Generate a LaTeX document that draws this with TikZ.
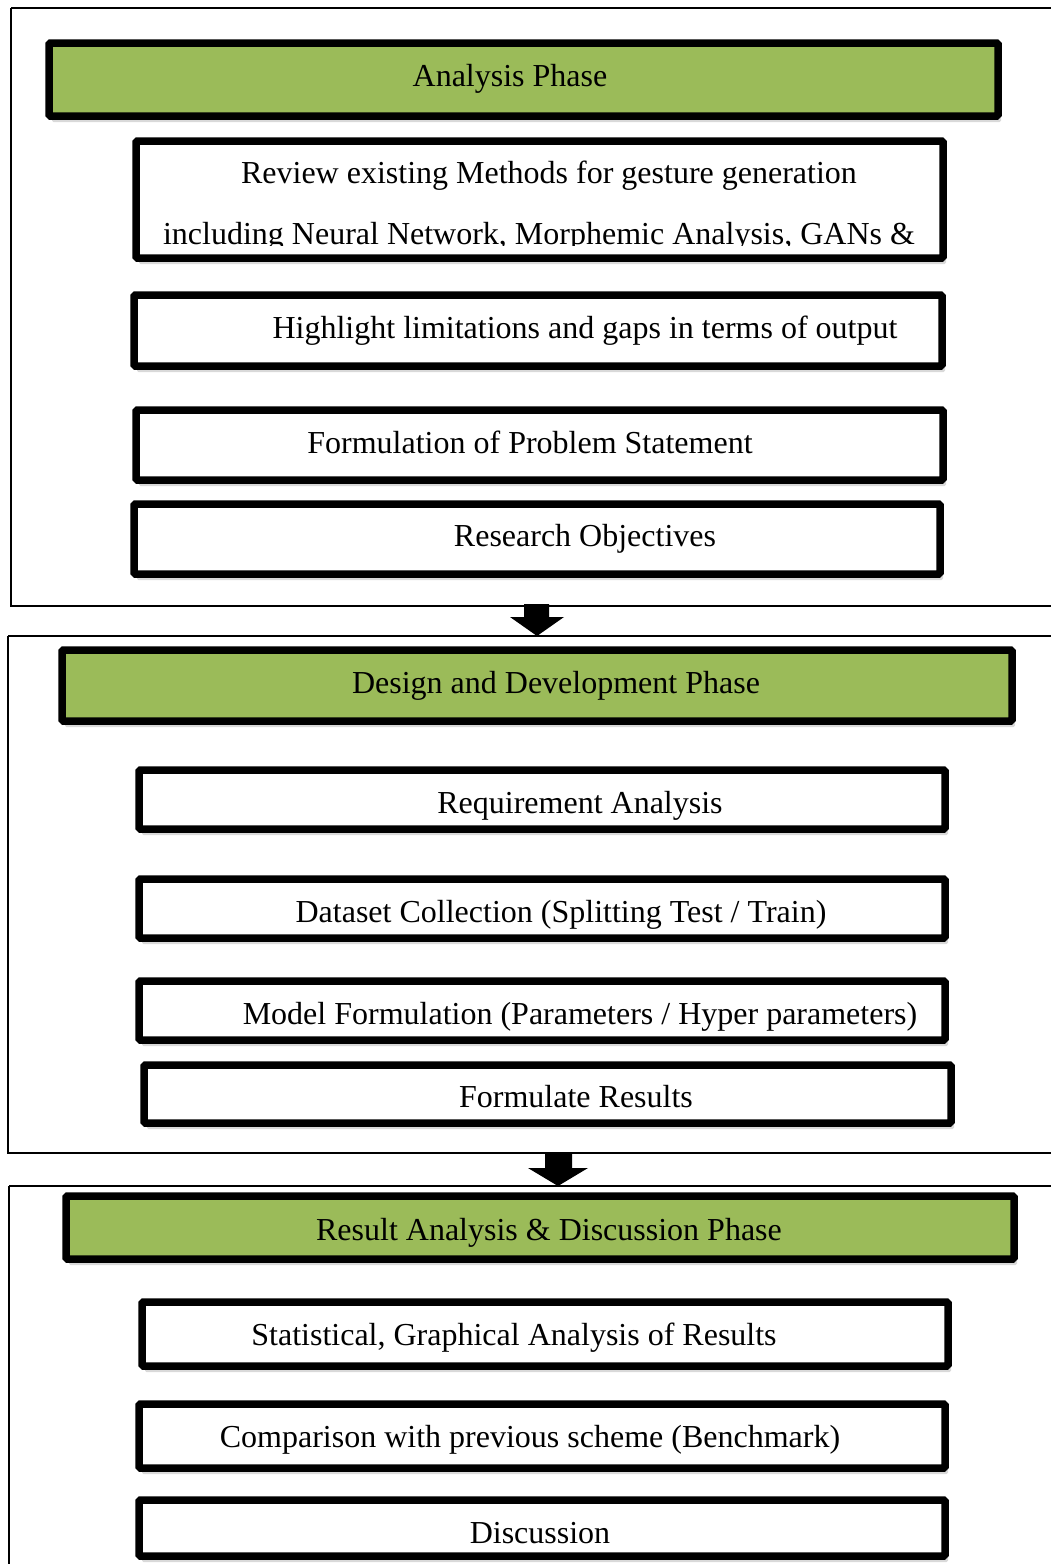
\documentclass[tikz,border=0pt]{standalone}
\usepackage{fontspec}
\setmainfont{Liberation Serif}
\usetikzlibrary{shadows,calc}
\begin{document}
\begin{tikzpicture}[x=1pt,y=-1pt,
  frame/.style={draw=black, line width=1.8pt},
  stepbox/.style={draw=black, fill=white, line width=7.5pt, rounded corners=1.5pt,
    inner sep=0pt, outer sep=0pt,
    drop shadow={opacity=0.3, shadow xshift=3pt, shadow yshift=-6pt}},
  phasebox/.style={stepbox, fill=phasegreen},
  lbl/.style={anchor=base, inner sep=0pt, font=\fontsize{32}{38}\selectfont},
  blockarrow/.style={fill=black, draw=none}]
\definecolor{phasegreen}{HTML}{9BBB59}
\useasboundingbox (0,0) rectangle (1051,1564);
\clip (0,0) rectangle (1051,1564);

% phase frames
\draw[frame] (11,8) -- (1070,8) (11,8) -- (11,606) -- (1070,606);
\draw[frame] (8,636) -- (1070,636) (8,636) -- (8,1153) -- (1070,1153);
\draw[frame] (9,1186) -- (1070,1186) (9,1186) -- (9,1580);
\coordinate (f1s) at (537,606);
\coordinate (f2n) at (537,636);
\coordinate (f2s) at (558,1153);
\coordinate (f3n) at (558,1186);

% block arrows between phases
\fill[blockarrow] ($(f1s)+(-13,-2)$) -- ($(f1s)+(-13,11)$) -- ($(f1s)+(-27,11)$)
  -- (f2n) -- ($(f1s)+(27,11)$) -- ($(f1s)+(12,11)$) -- ($(f1s)+(12,-2)$) -- cycle;
\fill[blockarrow] ($(f2s)+(-13,-1)$) -- ($(f2s)+(-13,15)$) -- ($(f2s)+(-30,15)$)
  -- (f3n) -- ($(f2s)+(30,15)$) -- ($(f2s)+(14,15)$) -- ($(f2s)+(14,-1)$) -- cycle;

% Analysis phase
\node[phasebox, minimum width=949pt, minimum height=73pt] (a0) at (523.5,79.5) {};
\node[lbl] (ta0) at (510,86) {Analysis Phase};
\node[stepbox, minimum width=807pt, minimum height=117pt] (a1) at (539.5,199.5) {};
\begin{scope}
  \clip (140,145) rectangle (940,245);
  \node[lbl] (ta1a) at (549,183) {Review existing Methods for gesture generation};
  \node[lbl] (ta1b) at (539,244) {including Neural Network, Morphemic Analysis, GANs \&};
\end{scope}
\node[stepbox, minimum width=808pt, minimum height=71pt] (a2) at (538,330.5) {};
\node[lbl] (ta2) at (585,338) {Highlight limitations and gaps in terms of output};
\node[stepbox, minimum width=807pt, minimum height=70pt] (a3) at (539.5,445) {};
\node[lbl] (ta3) at (530,453) {Formulation of Problem Statement};
\node[stepbox, minimum width=806pt, minimum height=70pt] (a4) at (537,539) {};
\node[lbl] (ta4) at (585,546) {Research Objectives};

% Design and development phase
\node[phasebox, minimum width=950pt, minimum height=71pt] (d0) at (537,685.5) {};
\node[lbl] (td0) at (556,693) {Design and Development Phase};
\node[stepbox, minimum width=806pt, minimum height=59pt] (d1) at (542,799.5) {};
\node[lbl] (td1) at (580,813) {Requirement Analysis};
\node[stepbox, minimum width=806pt, minimum height=59pt] (d2) at (542,908.5) {};
\node[lbl] (td2) at (561,922) {Dataset Collection (Splitting Test / Train)};
\node[stepbox, minimum width=806pt, minimum height=59pt] (d3) at (542,1010.5) {};
\node[lbl] (td3) at (580,1024) {Model Formulation (Parameters / Hyper parameters)};
\node[stepbox, minimum width=807pt, minimum height=58pt] (d4) at (547.5,1094) {};
\node[lbl] (td4) at (576,1107) {Formulate Results};

% Result analysis and discussion phase
\node[phasebox, minimum width=948pt, minimum height=63pt] (r0) at (540,1227.5) {};
\node[lbl] (tr0) at (549,1240) {Result Analysis \& Discussion Phase};
\node[stepbox, minimum width=806pt, minimum height=64pt] (r1) at (545,1334) {};
\node[lbl] (tr1) at (514,1345) {Statistical, Graphical Analysis of Results};
\node[stepbox, minimum width=806pt, minimum height=64pt] (r2) at (542,1436) {};
\node[lbl] (tr2) at (530,1447) {Comparison with previous scheme (Benchmark)};
\node[stepbox, minimum width=806pt, minimum height=56pt] (r3) at (542,1528) {};
\node[lbl] (tr3) at (540,1543) {Discussion};
\end{tikzpicture}
\end{document}
